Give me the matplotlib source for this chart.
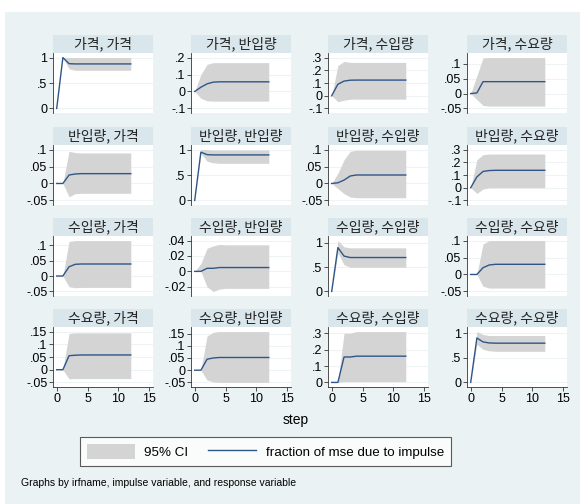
import numpy as np
import matplotlib
matplotlib.use("Agg")
from matplotlib import pyplot as plt
from matplotlib.patches import Patch
from matplotlib.lines import Line2D

steps = list(range(13))
names = ["가격", "반입량", "수입량", "수요량"]

# fraction of mse due to impulse, steps 0..12, per (impulse, response)
fevd = {
    ("가격", "가격"):     [0, 1.0, 0.88, 0.875] + [0.875] * 9,
    ("가격", "반입량"):   [0, 0.025, 0.045, 0.055, 0.057] + [0.057] * 8,
    ("가격", "수입량"):   [0, 0.09, 0.115, 0.122, 0.123] + [0.123] * 8,
    ("가격", "수요량"):   [0, 0.002, 0.04, 0.04] + [0.04] * 9,
    ("반입량", "가격"):   [0, 0, 0.025, 0.028, 0.029] + [0.029] * 8,
    ("반입량", "반입량"): [0, 0.95, 0.90, 0.895] + [0.895] * 9,
    ("반입량", "수입량"): [0, 0.002, 0.01, 0.022, 0.025] + [0.025] * 8,
    ("반입량", "수요량"): [0, 0.085, 0.128, 0.135, 0.137] + [0.137] * 8,
    ("수입량", "가격"):   [0, 0, 0.03, 0.038, 0.039] + [0.039] * 8,
    ("수입량", "반입량"): [0, 0, 0.004, 0.004, 0.005] + [0.005] * 8,
    ("수입량", "수입량"): [0, 0.905, 0.73, 0.70, 0.70] + [0.70] * 8,
    ("수입량", "수요량"): [0, 0, 0.02, 0.028, 0.03] + [0.03] * 8,
    ("수요량", "가격"):   [0, 0, 0.055, 0.057, 0.058] + [0.058] * 8,
    ("수요량", "반입량"): [0, 0, 0.045, 0.05, 0.052] + [0.052] * 8,
    ("수요량", "수입량"): [0, 0, 0.155, 0.155, 0.16] + [0.16] * 8,
    ("수요량", "수요량"): [0, 0.9, 0.82, 0.80, 0.795] + [0.795] * 8,
}

ci_lower = {
    ("가격", "가격"):     [0, 1.0, 0.78, 0.75] + [0.75] * 9,
    ("가격", "반입량"):   [0, -0.04, -0.055, -0.057] + [-0.057] * 9,
    ("가격", "수입량"):   [0, -0.047, -0.035, -0.028] + [-0.027] * 9,
    ("가격", "수요량"):   [0, -0.02, -0.04, -0.042] + [-0.042] * 9,
    ("반입량", "가격"):   [0, 0, -0.039, -0.03] + [-0.029] * 9,
    ("반입량", "반입량"): [0, 0.93, 0.77, 0.74] + [0.73] * 9,
    ("반입량", "수입량"): [0, -0.015, -0.03, -0.04, -0.042] + [-0.042] * 8,
    ("반입량", "수요량"): [0, -0.045, -0.01, 0.0] + [0.0] * 9,
    ("수입량", "가격"):   [0, 0, -0.035, -0.038] + [-0.037] * 9,
    ("수입량", "반입량"): [0, 0, -0.02, -0.026, -0.023] + [-0.022] * 8,
    ("수입량", "수입량"): [0, 0.8, 0.55, 0.5] + [0.5] * 9,
    ("수입량", "수요량"): [0, 0, -0.035, -0.04] + [-0.04] * 9,
    ("수요량", "가격"):   [0, 0, -0.036, -0.035] + [-0.035] * 9,
    ("수요량", "반입량"): [0, 0, -0.04, -0.048] + [-0.05] * 9,
    ("수요량", "수입량"): [0, 0, 0.005, 0.005] + [0.005] * 9,
    ("수요량", "수요량"): [0, 0.77, 0.67, 0.64] + [0.63] * 9,
}

ci_upper = {
    ("가격", "가격"):     [0, 1.0, 1.0, 1.0] + [1.0] * 9,
    ("가격", "반입량"):   [0, 0.1, 0.16, 0.17] + [0.17] * 9,
    ("가격", "수입량"):   [0, 0.237, 0.27, 0.262] + [0.262] * 9,
    ("가격", "수요량"):   [0, 0.06, 0.12, 0.121] + [0.121] * 9,
    ("반입량", "가격"):   [0, 0, 0.095, 0.091] + [0.09] * 9,
    ("반입량", "반입량"): [0, 1.0, 1.0, 0.99] + [0.99] * 9,
    ("반입량", "수입량"): [0, 0.03, 0.07, 0.095, 0.098] + [0.098] * 8,
    ("반입량", "수요량"): [0, 0.22, 0.26, 0.265] + [0.265] * 9,
    ("수입량", "가격"):   [0, 0, 0.112, 0.115] + [0.115] * 9,
    ("수입량", "반입량"): [0, 0.01, 0.03, 0.033, 0.035] + [0.0345] * 8,
    ("수입량", "수입량"): [0, 1.05, 0.92, 0.9] + [0.9] * 9,
    ("수입량", "수요량"): [0, 0, 0.09, 0.1] + [0.1] * 9,
    ("수요량", "가격"):   [0, 0, 0.143, 0.145] + [0.145] * 9,
    ("수요량", "반입량"): [0, 0, 0.14, 0.155] + [0.158] * 9,
    ("수요량", "수입량"): [0, 0, 0.3, 0.3] + [0.31] * 9,
    ("수요량", "수요량"): [0, 1.03, 0.97, 0.95] + [0.95] * 9,
}

yticks = {
    ("가격", "가격"):     [0, 0.5, 1],
    ("가격", "반입량"):   [-0.1, 0, 0.1, 0.2],
    ("가격", "수입량"):   [-0.1, 0, 0.1, 0.2, 0.3],
    ("가격", "수요량"):   [-0.05, 0, 0.05, 0.1],
    ("반입량", "가격"):   [-0.05, 0, 0.05, 0.1],
    ("반입량", "반입량"): [0, 0.5, 1],
    ("반입량", "수입량"): [-0.05, 0, 0.05, 0.1],
    ("반입량", "수요량"): [-0.1, 0, 0.1, 0.2, 0.3],
    ("수입량", "가격"):   [-0.05, 0, 0.05, 0.1],
    ("수입량", "반입량"): [-0.02, 0, 0.02, 0.04],
    ("수입량", "수입량"): [0, 0.5, 1],
    ("수입량", "수요량"): [-0.05, 0, 0.05, 0.1],
    ("수요량", "가격"):   [-0.05, 0, 0.05, 0.1, 0.15],
    ("수요량", "반입량"): [-0.05, 0, 0.05, 0.1, 0.15],
    ("수요량", "수입량"): [0, 0.1, 0.2, 0.3],
    ("수요량", "수요량"): [0, 0.5, 1],
}
xticks = [0, 5, 10, 15]


def stata_label(v):
    s = f"{v:g}"
    if s.startswith("0."):
        s = s[1:]
    elif s.startswith("-0."):
        s = "-" + s[2:]
    return s


BG = "#eaf2f3"
STRIP = "#d9e6eb"
LINE = "#2f5688"
BAND = "#d4d4d4"
LAT = "Liberation Sans"
KOR = ["Noto Sans CJK KR", "DejaVu Sans"]

W, H = 582, 504
fig = plt.figure(figsize=(W / 100, H / 100), dpi=100)
fig.patch.set_facecolor("white")
fig.patches.append(plt.Rectangle((5 / W, 0), 575 / W, 1 - 12 / H, transform=fig.transFigure,
                                 facecolor=BG, edgecolor="none", zorder=-10))

col_left = [53, 191, 328, 467]
row_top = [53, 145, 236, 327]
pw, ph = 100, 60
strip_h = 18

for i, imp in enumerate(names):
    for j, resp in enumerate(names):
        key = (imp, resp)
        x0, y0 = col_left[j], row_top[i]
        ax = fig.add_axes([x0 / W, 1 - (y0 + ph) / H, pw / W, ph / H])
        ax.set_facecolor("white")
        ax.fill_between(steps, ci_lower[key], ci_upper[key], color=BAND, lw=0)
        ax.plot(steps, fevd[key], color=LINE, lw=1.0)
        ticks = yticks[key]
        lo = min(ticks[0], min(ci_lower[key]))
        hi = max(ticks[-1], max(ci_upper[key]))
        pad = 0.09 * (hi - lo)
        ax.set_ylim(lo - pad, hi + pad)
        ax.set_xlim(-0.6, 15.6)
        ax.set_yticks(ticks)
        ax.set_yticklabels([stata_label(t) for t in ticks], fontfamily=LAT, fontsize=9)
        for t in ticks:
            ax.axhline(t, color="#eef3f5", lw=0.8, zorder=0)
        for s in ["top", "right"]:
            ax.spines[s].set_visible(False)
        ax.spines["left"].set_color("#333333")
        ax.spines["left"].set_linewidth(0.6)
        ax.tick_params(axis="y", length=3, width=0.6, pad=1, colors="#333333", labelcolor="black")
        if i == 3:
            ax.spines["bottom"].set_color("#333333")
            ax.spines["bottom"].set_linewidth(0.6)
            ax.set_xticks(xticks)
            ax.set_xticklabels([str(t) for t in xticks], fontfamily=LAT, fontsize=9)
            ax.tick_params(axis="x", length=3, width=0.6, pad=1.5, colors="#333333", labelcolor="black")
        else:
            ax.spines["bottom"].set_visible(False)
            ax.set_xticks([])
        # title strip
        sax = fig.add_axes([x0 / W, 1 - y0 / H, pw / W, strip_h / H])
        sax.set_facecolor(STRIP)
        sax.set_xticks([])
        sax.set_yticks([])
        for s in sax.spines.values():
            s.set_visible(False)
        sax.text(0.5, 0.5, f"{imp}, {resp}", ha="center", va="center",
                 fontsize=10, family=KOR, color="#222222", transform=sax.transAxes)

fig.text(296 / W, 1 - 420 / H, "step", ha="center", va="center", fontsize=10, family=LAT)

handles = [Patch(facecolor=BAND, edgecolor="none"), Line2D([0], [0], color=LINE, lw=1.0)]
leg = fig.legend(handles, ["95% CI", "fraction of mse due to impulse"], ncol=2,
                 loc="center", bbox_to_anchor=(265.5 / W, 1 - 451.5 / H),
                 prop={"family": LAT, "size": 9.6}, frameon=True, fancybox=False,
                 handlelength=3.6, handleheight=1.3, columnspacing=1.5, handletextpad=0.7,
                 borderpad=0.5)
leg.get_frame().set_edgecolor("#333333")
leg.get_frame().set_linewidth(0.8)

fig.text(21 / W, 1 - 483 / H, "Graphs by irfname, impulse variable, and response variable",
         ha="left", va="center", fontsize=7.5, family=LAT)

fig.savefig("out.png", dpi=100, facecolor="white")
